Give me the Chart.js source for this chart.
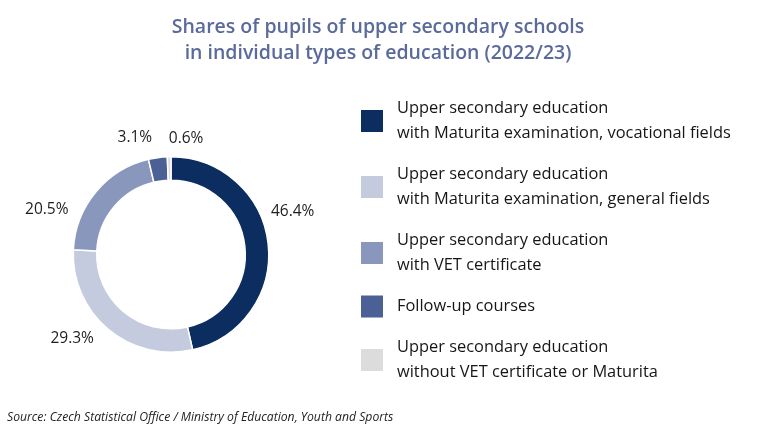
<!DOCTYPE html>
<html>
<head>
<meta charset="utf-8">
<script src="https://cdn.jsdelivr.net/npm/chart.js@4/dist/chart.umd.min.js"></script>
<style>
  html, body { margin: 0; padding: 0; background: #fff; }
  #wrap { position: relative; width: 760px; height: 435px; }
</style>
</head>
<body>
<div id="wrap"><canvas id="chart" width="760" height="435"></canvas></div>
<script>
const titleLines = [
  "Shares of pupils of upper secondary schools",
  "in individual types of education (2022/23)"
];
const categories = [
  ["Upper secondary education", "with Maturita examination, vocational fields"],
  ["Upper secondary education", "with Maturita examination, general fields"],
  ["Upper secondary education", "with VET certificate"],
  ["Follow-up courses"],
  ["Upper secondary education", "without VET certificate or Maturita"]
];
const shares = [46.4, 29.3, 20.5, 3.1, 0.6];
const colors = ["#0c2d60", "#c4cbdf", "#8a97bd", "#4b6095", "#dcdcdc"];
const sourceText = "Source: Czech Statistical Office / Ministry of Education, Youth and Sports";

const FONT = "'Open Sans', sans-serif";

// angle nudges (degrees) and distance from centre for the % labels
const labelShift = [-13, 9.5, -20, -9.5, 8.5];
const labelDist = [129, 130, 132, 122, 117];

const decor = {
  id: "decor",
  afterDraw(chart) {
    const ctx = chart.ctx;
    ctx.save();

    // title
    ctx.fillStyle = "#5a6a9a";
    ctx.font = "600 19.5px " + FONT;
    ctx.textAlign = "center";
    ctx.textBaseline = "middle";
    ctx.fillText(titleLines[0], 378, 27);
    ctx.fillText(titleLines[1], 378, 53);

    // value labels
    const meta = chart.getDatasetMeta(0);
    ctx.fillStyle = "#1e1e1e";
    ctx.font = "15.5px " + FONT;
    meta.data.forEach((arc, i) => {
      const p = arc.getProps(["x", "y", "startAngle", "endAngle"], true);
      const a = (p.startAngle + p.endAngle) / 2 + labelShift[i] * Math.PI / 180;
      const x = p.x + Math.cos(a) * labelDist[i];
      const y = p.y + Math.sin(a) * labelDist[i];
      ctx.fillText(chart.data.datasets[0].data[i].toFixed(1) + "%", x, y);
    });

    // legend
    const lineH = 25;
    const gap = 16;
    let top = 96;
    ctx.textAlign = "left";
    ctx.font = "16.4px " + FONT;
    chart.data.labels.forEach((lines, i) => {
      const h = lines.length * lineH;
      const cy = top + h / 2;
      ctx.fillStyle = colors[i];
      ctx.fillRect(361, cy - 11, 22, 22);
      ctx.fillStyle = "#161616";
      lines.forEach((t, k) => ctx.fillText(t, 397, top + lineH / 2 + k * lineH));
      top += h + gap;
    });

    // source
    ctx.font = "italic 12.2px " + FONT;
    ctx.fillStyle = "#222";
    ctx.fillText(sourceText, 7, 418);

    ctx.restore();
  }
};

new Chart(document.getElementById("chart"), {
  type: "doughnut",
  data: {
    labels: categories,
    datasets: [{
      data: shares,
      backgroundColor: colors,
      borderColor: "#fff",
      borderWidth: 1.5
    }]
  },
  options: {
    responsive: false,
    animation: false,
    cutout: "76%",
    layout: { padding: { left: 72, right: 490, top: 156, bottom: 82 } },
    plugins: {
      legend: { display: false },
      title: { display: false },
      tooltip: { enabled: false }
    }
  },
  plugins: [decor]
});
</script>
</body>
</html>
